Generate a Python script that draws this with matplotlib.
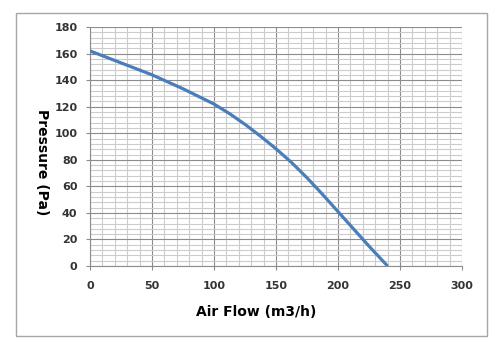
import matplotlib.pyplot as plt
from matplotlib.patches import Rectangle
import numpy as np

# values
air_flow = [0, 25, 50, 75, 100, 112.5, 125, 137.5, 150, 162.5, 175, 187.5, 200, 225, 240]
pressure = [162, 153, 144, 133.5, 122, 114.8, 106.7, 97.8, 88.3, 78, 66.5, 54, 41, 15, 0]

x_ticks = [0, 50, 100, 150, 200, 250, 300]
y_ticks = [0, 20, 40, 60, 80, 100, 120, 140, 160, 180]

fig = plt.figure(figsize=(5, 3.51), dpi=100)
fig.patch.set_facecolor('white')

# outer chart frame
fig.patches.append(Rectangle((0.032, 0.043), 0.942, 0.920, transform=fig.transFigure,
                             fill=False, edgecolor='#a6a6a6', linewidth=1.0))

ax = fig.add_axes([0.18, 0.242, 0.744, 0.681])
ax.plot(air_flow, pressure, color='#4a7ebb', linewidth=2.3, solid_capstyle='butt',
        solid_joinstyle='round', zorder=3)

ax.set_xlim(0, 300)
ax.set_ylim(0, 180)
ax.set_xticks(x_ticks)
ax.set_yticks(y_ticks)
ax.set_xticks(np.arange(0, 301, 10), minor=True)
ax.set_yticks(np.arange(0, 181, 4), minor=True)

ax.grid(which='major', color='#8c8c8c', linewidth=0.8)
ax.grid(which='minor', color='#cccccc', linewidth=0.8)
ax.set_axisbelow(True)

for side in ['left', 'bottom']:
    ax.spines[side].set_color('#8c8c8c')
for side in ['top', 'right']:
    ax.spines[side].set_visible(False)

ax.tick_params(which='major', length=3, color='#8c8c8c', labelsize=8,
               labelcolor='#333333')
ax.tick_params(which='minor', length=0)
ax.tick_params(axis='x', pad=8)
ax.tick_params(axis='y', pad=6)
for lbl in ax.get_xticklabels() + ax.get_yticklabels():
    lbl.set_fontweight('bold')

fig.text(0.512, 0.112, 'Air Flow (m3/h)', ha='center', va='center',
         fontsize=10, fontweight='bold', color='black')
fig.text(0.084, 0.538, 'Pressure (Pa)', ha='center', va='center', rotation=-90,
         fontsize=10, fontweight='bold', color='black')

plt.savefig('out.png', dpi=100)
plt.close()
